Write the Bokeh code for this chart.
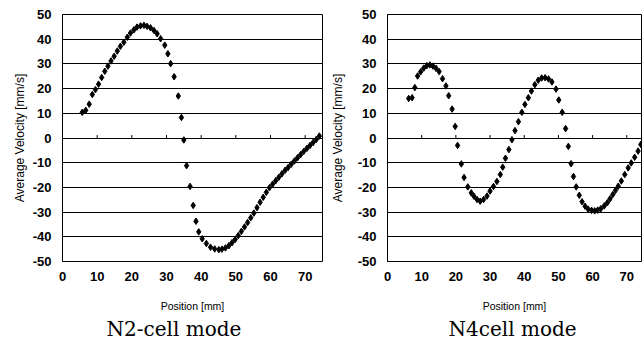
from bokeh.plotting import figure
from bokeh.layouts import row
from bokeh.models import Range1d, FixedTicker, Title
from bokeh.embed import file_html
from bokeh.resources import INLINE

# ---------------- data ----------------
n2_pos = [5.7, 6.7, 7.7, 8.6, 9.5, 10.4, 11.3, 12.2, 13.1, 14.0,
          14.9, 15.8, 16.7, 17.7, 18.7, 19.6, 20.6, 21.5, 22.5, 23.5,
          24.4, 25.4, 26.4, 27.3, 28.3, 29.5, 30.4, 31.2, 32.2, 33.4,
          34.3, 35.0, 35.8, 36.8, 37.7, 38.5, 39.3, 40.3, 41.5, 42.7,
          43.9, 45.1, 46.0, 47.0, 48.0, 48.9, 49.8, 50.7, 51.6, 52.5,
          53.4, 54.3, 55.2, 56.1, 57.0, 57.9, 58.8, 59.7, 60.6, 61.5,
          62.4, 63.3, 64.2, 65.1, 66.0, 66.9, 67.8, 68.7, 69.6, 70.5,
          71.4, 72.3, 73.2, 74.1]
n2_vel = [10.4, 11.2, 13.7, 17.6, 19.6, 21.8, 24.5, 27.0, 29.1, 31.2,
          33.1, 35.2, 37.1, 38.8, 40.8, 42.5, 43.8, 44.9, 45.4, 45.6,
          45.2, 44.6, 43.5, 42.2, 40.2, 37.6, 34.1, 30.1, 24.8, 17.0,
          8.3, -0.8, -11.2, -19.6, -27.3, -33.7, -38.0, -40.8, -42.7, -44.2,
          -44.9, -45.2, -45.0, -44.5, -43.6, -42.4, -41.1, -39.5, -37.8, -36.0,
          -34.2, -32.3, -30.4, -28.2, -26.0, -24.0, -22.0, -20.1, -18.7, -17.3,
          -15.9, -14.5, -13.1, -11.9, -10.6, -9.3, -8.0, -6.7, -5.4, -4.2,
          -3.0, -1.8, -0.6, 0.8]

n4_pos = [6.2, 7.2, 8.0, 8.8, 9.7, 10.6, 11.5, 12.4, 13.3, 14.2,
          15.1, 16.1, 17.1, 17.9, 18.9, 19.8, 20.5, 21.6, 22.4, 23.5,
          24.5, 25.3, 26.2, 27.1, 28.1, 29.1, 30.0, 31.0, 32.0, 33.0,
          33.7, 34.5, 35.5, 36.4, 37.3, 38.3, 39.3, 40.2, 41.2, 42.1,
          43.1, 44.1, 45.1, 46.1, 47.1, 48.1, 49.3, 50.1, 51.1, 52.1,
          52.9, 53.7, 54.4, 55.2, 56.1, 56.9, 57.8, 58.7, 59.7, 60.6,
          61.5, 62.4, 63.4, 64.3, 65.1, 65.9, 66.7, 67.5, 68.4, 69.4,
          70.4, 71.3, 72.3, 73.3, 74.1]
n4_vel = [16.0, 16.3, 20.4, 25.1, 26.8, 28.3, 29.3, 29.6, 29.1, 28.2,
          26.9, 24.0, 21.1, 17.1, 11.7, 4.7, -3.0, -10.5, -16.0, -19.8,
          -22.2, -23.6, -24.9, -25.6, -24.9, -23.5, -21.5, -19.6, -17.6, -14.8,
          -11.8, -8.2, -4.7, -0.7, 3.0, 6.6, 10.4, 13.6, 16.3, 19.0,
          21.6, 23.4, 24.3, 24.4, 23.9, 22.7, 19.8, 15.4, 10.4, 3.8,
          -3.4, -10.4, -15.6, -19.8, -23.2, -25.8, -27.6, -28.8, -29.3, -29.5,
          -29.2, -28.6, -27.5, -26.2, -24.6, -22.9, -21.2, -19.5, -17.4, -14.8,
          -12.1, -10.1, -7.8, -5.3, -2.6]

x_ticks = [0, 10, 20, 30, 40, 50, 60, 70]
x_tick_labels = ["0", "10", "20", "30", "40", "50", "60", "70"]
y_ticks = [-50, -40, -30, -20, -10, 0, 10, 20, 30, 40, 50]
y_tick_labels = ["-50", "-40", "-30", "-20", "-10", "0", "10", "20", "30", "40", "50"]

x_label = "Position [mm]"
y_label = "Average Velocity [mm/s]"
titles = ["N2-cell mode", "N4cell mode"]

SANS = "Liberation Sans"


def make_panel(pos, vel, title, x_end, width, bl, br, title_offset, ylab_standoff):
    p = figure(width=width, height=340, x_range=Range1d(0, x_end),
               y_range=Range1d(-50, 50), output_backend="svg",
               toolbar_location=None, min_border_left=bl, min_border_right=br,
               min_border_top=14, min_border_bottom=78)
    p.background_fill_color = "white"
    p.border_fill_color = "white"
    p.outline_line_color = "black"
    p.outline_line_width = 1
    p.outline_line_alpha = 1

    # axes
    p.xaxis.ticker = FixedTicker(ticks=x_ticks)
    p.xaxis.major_label_overrides = dict(zip(x_ticks, x_tick_labels))
    p.yaxis.ticker = FixedTicker(ticks=y_ticks)
    p.yaxis.major_label_overrides = dict(zip(y_ticks, y_tick_labels))
    for ax in (p.xaxis, p.yaxis):
        ax.major_tick_line_color = None
        ax.minor_tick_line_color = None
        ax.major_label_text_font = SANS
        ax.major_label_text_font_size = "13px"
        ax.major_label_text_font_style = "bold"
        ax.major_label_text_color = "black"
        ax.axis_label_text_font = SANS
        ax.axis_label_text_font_style = "normal"
        ax.axis_label_text_color = "black"
    p.xaxis.axis_line_color = None
    p.yaxis.axis_line_color = "black"
    p.xaxis.major_label_standoff = 4
    p.yaxis.major_label_standoff = 5
    p.xaxis.axis_label = x_label
    p.xaxis.axis_label_text_font_size = "10.5px"
    p.xaxis.axis_label_standoff = 16
    p.yaxis.axis_label = y_label
    p.yaxis.axis_label_text_font_size = "12px"
    p.yaxis.axis_label_standoff = ylab_standoff

    # grid
    p.xgrid.visible = False
    p.ygrid.grid_line_color = "black"
    p.ygrid.grid_line_alpha = 1
    p.ygrid.grid_line_width = 1

    # tick marks on the zero line
    p.segment(x0=x_ticks, y0=[0] * len(x_ticks), x1=x_ticks,
              y1=[1.2] * len(x_ticks), line_color="black", line_width=1)

    p.scatter(pos, vel, marker="diamond", size=6.5, color="black")

    t = Title(text=title, align="left", offset=title_offset, standoff=0,
              text_font="DejaVu Serif", text_font_size="20px",
              text_font_style="normal", text_color="black")
    p.add_layout(t, "below")
    return p


p1 = make_panel(n2_pos, n2_vel, titles[0], 75, 324, 62, 2, 44, 3)
p2 = make_panel(n4_pos, n4_vel, titles[1], 74.3, 318, 63, 1, 61, 10)

layout = row(p1, p2)
open("out.html", "w").write(file_html(layout, INLINE))
